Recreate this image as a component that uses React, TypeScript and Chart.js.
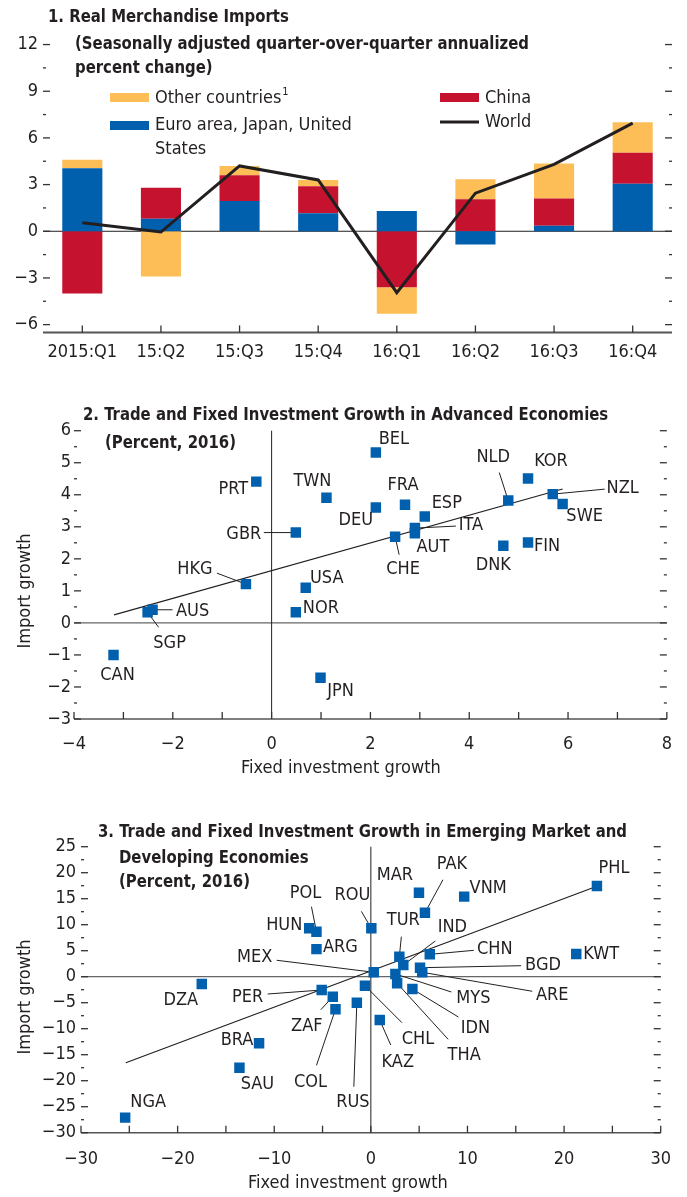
import React, { useEffect, useRef } from 'react';
import { Chart, registerables } from 'chart.js';

Chart.register(...registerables);

const FONT = "'Liberation Sans Narrow', 'Arial Narrow', 'DejaVu Sans Condensed', sans-serif";
const TEXT = '#231f20';
const BLUE = '#0060ae';
const RED = '#c4122f';
const ORANGE = '#fdbe57';
const AXIS = '#555555';

// ---------------- Panel 1 data ----------------
const quarterLabels = ['2015:Q1', '15:Q2', '15:Q3', '15:Q4', '16:Q1', '16:Q2', '16:Q3', '16:Q4'];
const euroJapanUS = [4.05, 0.8, 1.95, 1.15, 1.3, -0.85, 0.35, 3.05];
const chinaImports = [-4.0, 2.0, 1.65, 1.75, -3.6, 2.05, 1.75, 2.0];
const otherCountries = [0.55, -2.9, 0.6, 0.4, -1.7, 1.3, 2.25, 1.95];
const worldImports = [0.55, -0.05, 4.2, 3.3, -3.95, 2.45, 4.3, 6.95];
const panel1YTicks = [-6, -4.5, -3, -1.5, 0, 1.5, 3, 4.5, 6, 7.5, 9, 10.5, 12];

// ---------------- Panel 2 data ----------------
const advCodes = ['PRT', 'TWN', 'GBR', 'HKG', 'USA', 'NOR', 'AUS', 'SGP', 'CAN', 'JPN', 'BEL', 'DEU', 'FRA', 'ESP', 'ITA', 'AUT', 'CHE', 'NLD', 'KOR', 'NZL', 'SWE', 'DNK', 'FIN'];
const advInvestment = [-0.31, 1.11, 0.49, -0.52, 0.69, 0.49, -2.41, -2.51, -3.2, 0.99, 2.11, 2.11, 2.7, 3.1, 2.9, 2.9, 2.5, 4.79, 5.19, 5.69, 5.89, 4.69, 5.19];
const advImportGrowth = [4.41, 3.91, 2.82, 1.21, 1.1, 0.33, 0.41, 0.33, -1.0, -1.71, 5.32, 3.6, 3.69, 3.32, 2.96, 2.8, 2.69, 3.82, 4.51, 4.02, 3.71, 2.41, 2.51];
const advFitX = [-3.19, 5.89];
const advFitY = [0.25, 4.18];
const advXTicks = [-4, -3, -2, -1, 0, 1, 2, 3, 4, 5, 6, 7, 8];
const advYTicks = [-3, -2.5, -2, -1.5, -1, -0.5, 0, 0.5, 1, 1.5, 2, 2.5, 3, 3.5, 4, 4.5, 5, 5.5, 6];

// ---------------- Panel 3 data ----------------
const emCodes = ['DZA', 'HUN', 'POL', 'ARG', 'MEX', 'PER', 'ZAF', 'COL', 'BRA', 'SAU', 'NGA', 'RUS', 'MAR', 'PAK', 'VNM', 'PHL', 'ROU', 'TUR', 'IND', 'CHN', 'BGD', 'ARE', 'MYS', 'IDN', 'THA', 'CHL', 'KAZ', 'KWT'];
const emInvestment = [-17.5, -6.38, -5.63, -5.63, 0.3, -5.09, -3.94, -3.66, -11.57, -13.6, -25.43, -1.45, 4.98, 5.6, 9.66, 23.4, 0.05, 2.95, 3.36, 6.1, 5.09, 5.32, 2.54, 4.3, 2.72, -0.61, 0.92, 21.26];
const emImportGrowth = [-1.4, 9.3, 8.65, 5.3, 0.85, -2.56, -3.85, -6.27, -12.8, -17.5, -27.1, -5.0, 16.15, 12.3, 15.4, 17.45, 9.3, 3.85, 2.25, 4.3, 1.73, 0.85, 0.52, -2.37, -1.27, -1.73, -8.33, 4.37];
const emFitX = [-25.36, 23.12];
const emFitY = [-16.54, 17.19];
const emXTicks = [-30, -25, -20, -15, -10, -5, 0, 5, 10, 15, 20, 25, 30];
const emYTicks = [-30, -27.5, -25, -22.5, -20, -17.5, -15, -12.5, -10, -7.5, -5, -2.5, 0, 2.5, 5, 7.5, 10, 12.5, 15, 17.5, 20, 22.5, 25];

// ---------------- Label layout (pixel offsets from marker) ----------------
type Lbl = { t: [number, number]; l?: [number, number] };
const advLabelLayout: Record<string, Lbl> = {
  PRT: { t: [-23, 8] }, TWN: { t: [-14, -16] }, GBR: { t: [-52, 2], l: [-32, 0] },
  HKG: { t: [-51, -15], l: [-29, -11] }, USA: { t: [21, -9] }, NOR: { t: [25, -4] },
  AUS: { t: [40, 2], l: [20, 0] }, SGP: { t: [22, 31], l: [11, 15] }, CAN: { t: [4, 20] },
  JPN: { t: [20, 14] }, BEL: { t: [18, -13] }, DEU: { t: [-20, 13] }, FRA: { t: [-2, -19] },
  ESP: { t: [22, -13] }, ITA: { t: [56, -3], l: [41, -2] }, AUT: { t: [18, 14] },
  CHE: { t: [8, 33], l: [4, 18] }, NLD: { t: [-15, -43], l: [-9, -28] }, KOR: { t: [23, -17] },
  NZL: { t: [70, -6], l: [52, -5] }, SWE: { t: [22, 12] }, DNK: { t: [-10, 20] }, FIN: { t: [19, 4] },
};
const emLabelLayout: Record<string, Lbl> = {
  DZA: { t: [-21, 16] }, HUN: { t: [-25, -3] }, POL: { t: [-11, -38], l: [-5, -25] },
  ARG: { t: [24, -2] }, MEX: { t: [-119, -15], l: [-97, -12] }, PER: { t: [-74, 7], l: [-54, 4] },
  ZAF: { t: [-26, 30], l: [-12, 13] }, COL: { t: [-25, 73], l: [-19, 56] }, BRA: { t: [-22, -3] },
  SAU: { t: [18, 17] }, NGA: { t: [23, -15] }, RUS: { t: [-4, 100], l: [-3, 84] },
  MAR: { t: [-24, -17] }, PAK: { t: [27, -48], l: [18, -33] }, VNM: { t: [24, -8] },
  PHL: { t: [17, -18] }, ROU: { t: [-19, -33], l: [-10, -17] }, TUR: { t: [4, -36], l: [2, -20] },
  IND: { t: [49, -38], l: [32, -24] }, CHN: { t: [65, -5], l: [44, -4] }, BGD: { t: [123, -2], l: [101, -2] },
  ARE: { t: [130, 23], l: [110, 19] }, MYS: { t: [78, 24], l: [56, 18] }, IDN: { t: [63, 39], l: [46, 28] },
  THA: { t: [67, 72], l: [51, 56] }, CHL: { t: [53, 54], l: [37, 37] }, KAZ: { t: [18, 42], l: [11, 25] },
  KWT: { t: [25, 0] },
};

const fmt = (v: number) => (v < 0 ? '\u2212' + Math.abs(v) : String(v));
const isMult = (v: number, m: number) => Math.abs(v / m - Math.round(v / m)) < 1e-6;

function seg(ctx: CanvasRenderingContext2D, x1: number, y1: number, x2: number, y2: number, color: string, w: number) {
  ctx.save();
  ctx.strokeStyle = color;
  ctx.lineWidth = w;
  ctx.beginPath();
  ctx.moveTo(x1, y1);
  ctx.lineTo(x2, y2);
  ctx.stroke();
  ctx.restore();
}

function text(ctx: CanvasRenderingContext2D, s: string, x: number, y: number, size: number, bold = false, align: CanvasTextAlign = 'left', squeeze = 1) {
  ctx.save();
  ctx.font = `${bold ? 'bold ' : ''}${size}px ${FONT}`;
  ctx.fillStyle = TEXT;
  ctx.textAlign = align;
  ctx.textBaseline = 'middle';
  ctx.translate(x, y);
  ctx.scale(squeeze, 1);
  ctx.fillText(s, 0, 0);
  ctx.restore();
}

const TITLE_SQUEEZE = 0.92;

function drawYTicks(chart: any, majorEvery: number) {
  const { ctx, chartArea: a, scales } = chart;
  const y = scales.y;
  y.ticks.forEach((t: any) => {
    const py = y.getPixelForValue(t.value);
    const major = isMult(t.value, majorEvery);
    const len = major ? 7 : 3;
    seg(ctx, a.left, py, a.left + len, py, '#333', 1.3);
    seg(ctx, a.right - len, py, a.right, py, '#333', 1.3);
  });
}

function drawXTicks(chart: any, majorEvery: number) {
  const { ctx, chartArea: a, scales } = chart;
  const x = scales.x;
  x.ticks.forEach((t: any) => {
    const px = x.getPixelForValue(t.value);
    const major = isMult(t.value, majorEvery);
    seg(ctx, px, a.bottom, px, a.bottom - (major ? 7 : 4), '#333', 1.3);
  });
}

// ---------------- Panel 1 ----------------
const panel1Plugin = {
  id: 'panel1Deco',
  beforeDatasetsDraw(chart: any) {
    const { ctx, chartArea: a, scales } = chart;
    const y0 = scales.y.getPixelForValue(0);
    seg(ctx, a.left, y0, a.right, y0, TEXT, 1);
  },
  afterDraw(chart: any) {
    const { ctx, chartArea: a, scales } = chart;
    seg(ctx, a.left, a.bottom, a.right, a.bottom, AXIS, 2);
    drawYTicks(chart, 3);
    quarterLabels.forEach((_, i) => {
      const px = scales.x.getPixelForValue(i);
      seg(ctx, px, a.bottom, px, a.bottom - 7, '#333', 1.3);
    });
    // title
    text(ctx, '1. Real Merchandise Imports', 48, 17, 18, true, 'left', TITLE_SQUEEZE);
    text(ctx, '(Seasonally adjusted quarter-over-quarter annualized', 75, 44, 18, true, 'left', TITLE_SQUEEZE);
    text(ctx, 'percent change)', 75, 68, 18, true, 'left', TITLE_SQUEEZE);
    // legend
    ctx.save();
    ctx.fillStyle = ORANGE;
    ctx.fillRect(110, 93, 39, 9);
    ctx.fillStyle = BLUE;
    ctx.fillRect(110, 121, 39, 9);
    ctx.fillStyle = RED;
    ctx.fillRect(440, 93, 39, 9);
    ctx.restore();
    seg(ctx, 440, 122, 479, 122, TEXT, 3);
    text(ctx, 'Other countries', 155, 98, 18);
    ctx.save();
    ctx.font = `18px ${FONT}`;
    const w = ctx.measureText('Other countries').width;
    ctx.restore();
    text(ctx, '1', 155 + w + 1, 92, 11);
    text(ctx, 'Euro area, Japan, United', 155, 125, 18);
    text(ctx, 'States', 155, 149, 18);
    text(ctx, 'China', 485, 98, 18);
    text(ctx, 'World', 485, 122, 18);
  },
};

function buildPanel1(canvas: HTMLCanvasElement) {
  return new Chart(canvas, {
    type: 'bar',
    data: {
      labels: quarterLabels,
      datasets: [
        { type: 'line', label: 'World', data: worldImports, borderColor: TEXT, borderWidth: 3, pointRadius: 0, tension: 0, order: 0, stack: 'world' } as any,
        { type: 'bar', label: 'Euro area, Japan, United States', data: euroJapanUS, backgroundColor: BLUE, order: 1, stack: 'bars' },
        { type: 'bar', label: 'China', data: chinaImports, backgroundColor: RED, order: 1, stack: 'bars' },
        { type: 'bar', label: 'Other countries', data: otherCountries, backgroundColor: ORANGE, order: 1, stack: 'bars' },
      ],
    },
    options: {
      responsive: false,
      animation: false,
      layout: { padding: { top: 29, left: 0, right: 15, bottom: 0 } },
      datasets: { bar: { barPercentage: 0.51, categoryPercentage: 1 } },
      plugins: { legend: { display: false }, tooltip: { enabled: false }, title: { display: false } },
      scales: {
        x: {
          stacked: true,
          grid: { display: false, drawTicks: false },
          border: { display: false },
          ticks: { color: TEXT, font: { family: FONT, size: 18 }, padding: 9, maxRotation: 0, autoSkip: false },
          afterFit: (s: any) => { s.height = 29.6; },
        },
        y: {
          stacked: true,
          min: -6.5,
          max: 13,
          grid: { display: false, drawTicks: false },
          border: { display: false },
          afterBuildTicks: (s: any) => { s.ticks = panel1YTicks.map((v) => ({ value: v })); },
          ticks: {
            color: TEXT, font: { family: FONT, size: 18 }, padding: 5, autoSkip: false,
            callback: (v: any) => (isMult(Number(v), 3) ? fmt(Number(v)) : ''),
          },
          afterFit: (s: any) => { s.width = 43; },
        },
      },
    } as any,
    plugins: [panel1Plugin],
  });
}

// ---------------- Scatter panels ----------------
function scatterPlugin(id: string, codes: string[], layout: Record<string, Lbl>, xMajor: number, yMajor: number, titles: [string, number, number][], yTitleY: number, xTitleX: number, xTitleY: number) {
  return {
    id,
    beforeDatasetsDraw(chart: any) {
      const { ctx, chartArea: a, scales } = chart;
      const x0 = scales.x.getPixelForValue(0);
      const y0 = scales.y.getPixelForValue(0);
      seg(ctx, a.left, y0, a.right, y0, '#666', 1.3);
      seg(ctx, x0, a.top, x0, a.bottom, TEXT, 1);
      const meta = chart.getDatasetMeta(0);
      codes.forEach((c, i) => {
        const lay = layout[c];
        if (!lay || !lay.l) return;
        const p = meta.data[i];
        seg(ctx, p.x, p.y, p.x + lay.l[0], p.y + lay.l[1], TEXT, 1);
      });
    },
    afterDraw(chart: any) {
      const { ctx, chartArea: a } = chart;
      seg(ctx, a.left, a.bottom, a.right, a.bottom, AXIS, 1.6);
      drawYTicks(chart, yMajor);
      drawXTicks(chart, xMajor);
      const meta = chart.getDatasetMeta(0);
      codes.forEach((c, i) => {
        const lay = layout[c];
        const p = meta.data[i];
        text(ctx, c, p.x + lay.t[0], p.y + lay.t[1], 18, false, 'center');
      });
      titles.forEach(([s, x, y]) => text(ctx, s, x, y, 18, true, 'left', TITLE_SQUEEZE));
      ctx.save();
      ctx.translate(25.5, yTitleY);
      ctx.rotate(-Math.PI / 2);
      text(ctx, 'Import growth', 0, 0, 18, false, 'center');
      ctx.restore();
      text(ctx, 'Fixed investment growth', xTitleX, xTitleY, 18);
    },
  };
}

function buildScatter(
  canvas: HTMLCanvasElement,
  codes: string[], xs: number[], ys: number[], fitX: number[], fitY: number[],
  xTicks: number[], yTicks: number[], xMajor: number, yMajor: number,
  geom: { padTop: number; padRight: number; yWidth: number; xHeight: number; xPad: number; yPad: number },
  plugin: any,
) {
  return new Chart(canvas, {
    type: 'scatter',
    data: {
      datasets: [
        {
          label: 'economies',
          data: codes.map((_, i) => ({ x: xs[i], y: ys[i] })),
          pointStyle: 'rect', pointRadius: 7.4, backgroundColor: BLUE, borderWidth: 0, order: 0,
        },
        {
          type: 'line', label: 'fit', data: fitX.map((x, i) => ({ x, y: fitY[i] })),
          borderColor: TEXT, borderWidth: 1.2, pointRadius: 0, showLine: true, order: 1,
        } as any,
      ],
    },
    options: {
      responsive: false,
      animation: false,
      layout: { padding: { top: geom.padTop, left: 0, right: geom.padRight, bottom: 0 } },
      plugins: { legend: { display: false }, tooltip: { enabled: false }, title: { display: false } },
      scales: {
        x: {
          type: 'linear', min: xTicks[0], max: xTicks[xTicks.length - 1],
          grid: { display: false, drawTicks: false }, border: { display: false },
          afterBuildTicks: (s: any) => { s.ticks = xTicks.map((v) => ({ value: v })); },
          ticks: {
            color: TEXT, font: { family: FONT, size: 18 }, padding: geom.xPad, maxRotation: 0, autoSkip: false,
            callback: (v: any) => (isMult(Number(v), xMajor * 2) ? fmt(Number(v)) : ''),
          },
          afterFit: (s: any) => { s.height = geom.xHeight; },
        },
        y: {
          type: 'linear', min: yTicks[0], max: yTicks[yTicks.length - 1],
          grid: { display: false, drawTicks: false }, border: { display: false },
          afterBuildTicks: (s: any) => { s.ticks = yTicks.map((v) => ({ value: v })); },
          ticks: {
            color: TEXT, font: { family: FONT, size: 18 }, padding: geom.yPad, autoSkip: false,
            callback: (v: any) => (isMult(Number(v), yMajor) ? fmt(Number(v)) : ''),
          },
          afterFit: (s: any) => { s.width = geom.yWidth; },
        },
      },
    } as any,
    plugins: [plugin],
  });
}

const panel2Plugin = scatterPlugin(
  'panel2Deco', advCodes, advLabelLayout, 1, 1,
  [['2. Trade and Fixed Investment Growth in Advanced Economies', 83, 53], ['(Percent, 2016)', 105, 81]],
  229, 241, 406,
);
const panel3Plugin = scatterPlugin(
  'panel3Deco', emCodes, emLabelLayout, 5, 5,
  [['3. Trade and Fixed Investment Growth in Emerging Market and', 98, 50], ['Developing Economies', 119, 76], ['(Percent, 2016)', 119, 100]],
  215, 248, 401,
);

function buildPanel2(canvas: HTMLCanvasElement) {
  return buildScatter(canvas, advCodes, advInvestment, advImportGrowth, advFitX, advFitY, advXTicks, advYTicks, 1, 1,
    { padTop: 68.7, padRight: 15.3, yWidth: 74, xHeight: 63, xPad: 15, yPad: 3 }, panel2Plugin);
}

function buildPanel3(canvas: HTMLCanvasElement) {
  return buildScatter(canvas, emCodes, emInvestment, emImportGrowth, emFitX, emFitY, emXTicks, emYTicks, 5, 5,
    { padTop: 64.7, padRight: 17, yWidth: 81, xHeight: 64.3, xPad: 16, yPad: 5 }, panel3Plugin);
}

function ChartCanvas({ top, height, build }: { top: number; height: number; build: (c: HTMLCanvasElement) => Chart }) {
  const ref = useRef<HTMLCanvasElement>(null);
  useEffect(() => {
    const chart = build(ref.current as HTMLCanvasElement);
    return () => chart.destroy();
  }, []);
  return (
    <canvas
      ref={ref}
      width={687}
      height={height}
      style={{ position: 'absolute', left: 0, top, width: 687, height, display: 'block' }}
    />
  );
}

export default function App() {
  return (
    <div style={{ position: 'absolute', left: 0, top: 0, width: 687, height: 1197, background: '#ffffff', overflow: 'hidden' }}>
      <ChartCanvas top={0} height={362} build={buildPanel1} />
      <ChartCanvas top={362} height={420} build={buildPanel2} />
      <ChartCanvas top={782} height={415} build={buildPanel3} />
    </div>
  );
}
